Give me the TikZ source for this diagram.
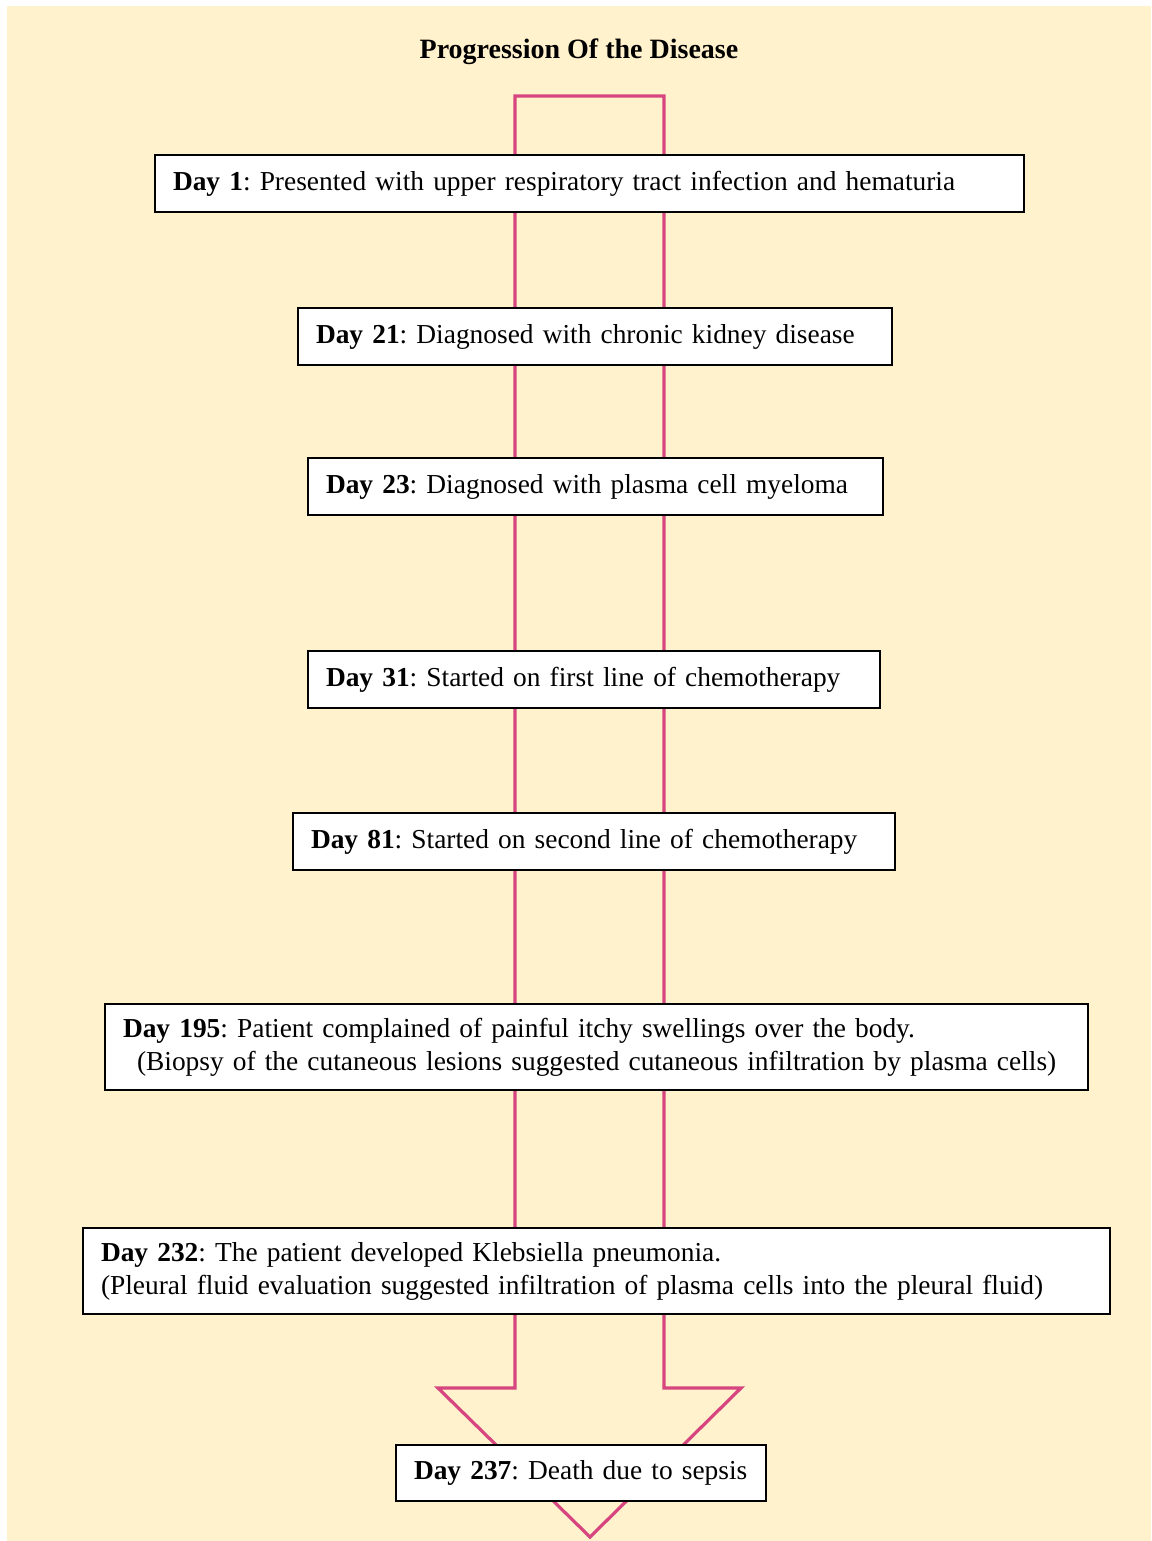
\documentclass[tikz,border=0pt]{standalone}
\usepackage{fontspec}
\setmainfont{Liberation Serif}
\definecolor{bgcream}{HTML}{FFF2CC}
\definecolor{arrowpink}{HTML}{D6457F}
\begin{document}
\begin{tikzpicture}[x=0.5pt,y=-0.5pt,
  daybox/.style={draw=black,fill=white,line width=0.8pt,inner xsep=9pt,inner ysep=0pt,
    align=left,font=\fontsize{13.7}{16.5}\selectfont\frenchspacing,anchor=center},
  titletext/.style={font=\fontsize{14}{16}\selectfont\bfseries}]
\useasboundingbox (0,0) rectangle (1151,1541);
\fill[bgcream] (7,6) rectangle (1151,1541);
\node[titletext] (title) at (579,52) {Progression Of the Disease};
\draw[arrowpink,line width=1.6pt,line join=miter]
  (515,1388) -- (515,96) -- (664,96) -- (664,1388) -- (741,1388) -- (590,1537) -- (438,1388) -- cycle;
\node[daybox,minimum width=434.5pt,minimum height=28.5pt,text width=416.5pt] (d1) at (589.5,183.5)
  {\textbf{Day 1}: Presented with upper respiratory tract infection and hematuria};
\node[daybox,minimum width=297pt,minimum height=28.5pt,text width=279pt] (d21) at (595,336.5)
  {\textbf{Day 21}: Diagnosed with chronic kidney disease};
\node[daybox,minimum width=287.5pt,minimum height=28.5pt,text width=269.5pt] (d23) at (595.5,486.5)
  {\textbf{Day 23}: Diagnosed with plasma cell myeloma};
\node[daybox,minimum width=286pt,minimum height=28.5pt,text width=268pt] (d31) at (594,679.5)
  {\textbf{Day 31}: Started on first line of chemotherapy};
\node[daybox,minimum width=301pt,minimum height=28.5pt,text width=283pt] (d81) at (594,841.5)
  {\textbf{Day 81}: Started on second line of chemotherapy};
\node[daybox,minimum width=491.5pt,minimum height=43pt,text width=473.5pt] (d195) at (596.5,1047)
  {\textbf{Day 195}: Patient complained of painful itchy swellings over the body.\\
   \hspace*{7pt}(Biopsy of the cutaneous lesions suggested cutaneous infiltration by plasma cells)};
\node[daybox,minimum width=513.5pt,minimum height=43pt,text width=495.5pt] (d232) at (596.5,1271)
  {\textbf{Day 232}: The patient developed Klebsiella pneumonia.\\
   (Pleural fluid evaluation suggested infiltration of plasma cells into the pleural fluid)};
\node[daybox,minimum width=185pt,minimum height=28pt,text width=167pt] (d237) at (581,1473)
  {\textbf{Day 237}: Death due to sepsis};
\end{tikzpicture}
\end{document}
